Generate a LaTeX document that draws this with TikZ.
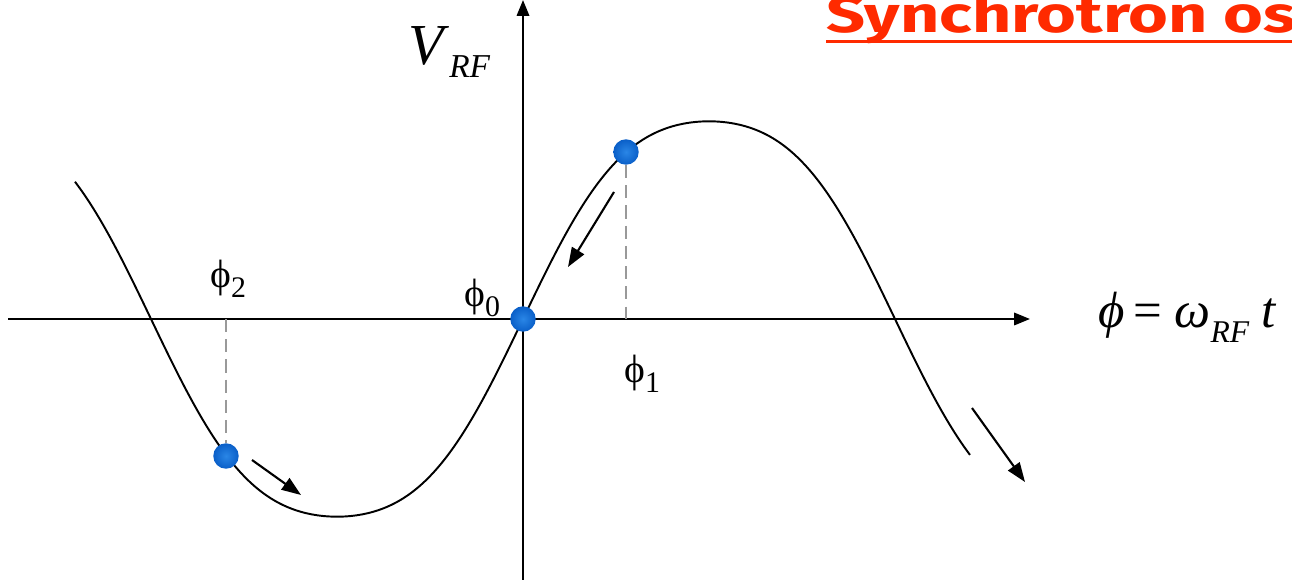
\documentclass[tikz,border=0pt]{standalone}
\usepackage{fontspec}
\setmainfont{Liberation Serif}
\newfontfamily\titlefont{Fira Sans}
\usetikzlibrary{arrows.meta, positioning}
\definecolor{titlered}{HTML}{FF2A00}
\definecolor{dotblue}{HTML}{0A5FC8}
\definecolor{dotlight}{HTML}{2A86E6}
\definecolor{guidegray}{HTML}{999999}
\newcommand{\phlab}[1]{ϕ\raisebox{-5.5pt}{\fontsize{17}{17}\selectfont #1}}

\begin{document}
\begin{tikzpicture}[
		x=0.02cm, y=-0.02cm,
		>={Triangle[length=11pt,width=8pt]},
		axis/.style={line width=1.3pt, -{Triangle[length=9pt,width=7pt]}},
		wave/.style={line width=1.1pt},
		motion/.style={line width=1.2pt, ->},
		guide/.style={guidegray, line width=1.1pt, dash pattern=on 7.5pt off 4pt},
		dot/.style={circle, inner sep=0pt, minimum size=14.5pt,
			inner color=dotlight, outer color=dotblue},
		phlabel/.style={anchor=base west, inner sep=0pt, font=\fontsize{22.5}{22.5}\selectfont}
		]
		
		\clip (0,0) rectangle (1292,580);
		
		% Axis end points
		\coordinate (xl) at (8,319);
		\coordinate (xr) at (1030,319);
		\coordinate (yb) at (523,580);
		\coordinate (yt) at (523,0);
		
		% Feet of the guide lines on the phase axis
		\coordinate (f1) at (626,319);
		\coordinate (f2) at (226,319);
		
		% --- Axes ---
		\draw[axis] (xl) -- (xr);
		\draw[axis] (yb) -- (yt);
		
		% RF voltage
		\draw[wave] plot[domain=75:970, samples=160, smooth]
		(\x, {319 - 210*sin(0.48387*(\x-523)) - 12.3*sin(1.45161*(\x-523))});
		
		% Particles on the wave
		\node[dot] (p0) at (523,319) {};
		\node[dot] (p1) at (626,152) {};
		\node[dot] (p2) at (226,456) {};
		
		\draw[guide] (p1) -- (f1);
		\draw[guide] (f2) -- (p2);
		
		% --- Motion of the particles ---
		\coordinate (m1a) at (614,192);
		\coordinate (m1b) at (568,267);
		\coordinate (m2a) at (252,460);
		\coordinate (m2b) at (301,495);
		\coordinate (m3a) at (972,408);
		\coordinate (m3b) at (1025,482);
		\draw[motion] (m1a) -- (m1b);
		\draw[motion] (m2a) -- (m2b);
		\draw[motion] (m3a) -- (m3b);
		
		% --- Labels ---
		\node[phlabel] (l0) at (464,307) {\phlab{0}};
		\node[phlabel] (l1) at (624,383) {\phlab{1}};
		\node[phlabel] (l2) at (210,288) {\phlab{2}};
		
		\node[anchor=base west, inner sep=0pt] (vlab) at (408,65)
		{\fontsize{33}{33}\selectfont\textit{V}\raisebox{-7.4pt}{\fontsize{19}{19}\selectfont\textit{RF}}};
		
		\node[anchor=base west, inner sep=0pt] (phase) at (1098,328)
		{\fontsize{29}{29}\selectfont\textit{ϕ}\hspace{5pt}=\hspace{7pt}\textit{ω}\raisebox{-8pt}{\fontsize{18}{18}\selectfont\textit{RF}}\hspace{7pt}\textit{t}};
		
		% Title, cut at the right edge
		\node[anchor=base west, inner sep=0pt, text=titlered] (title) at (826,33)
		{\titlefont\bfseries\fontsize{29}{29}\selectfont\scalebox{1.34}[1]{Synchrotron os}};
		\draw[titlered, line width=1.8pt] ([yshift=-5pt]title.base west) -- ([yshift=-5pt]title.base east);
		
	\end{tikzpicture}
\end{document}
